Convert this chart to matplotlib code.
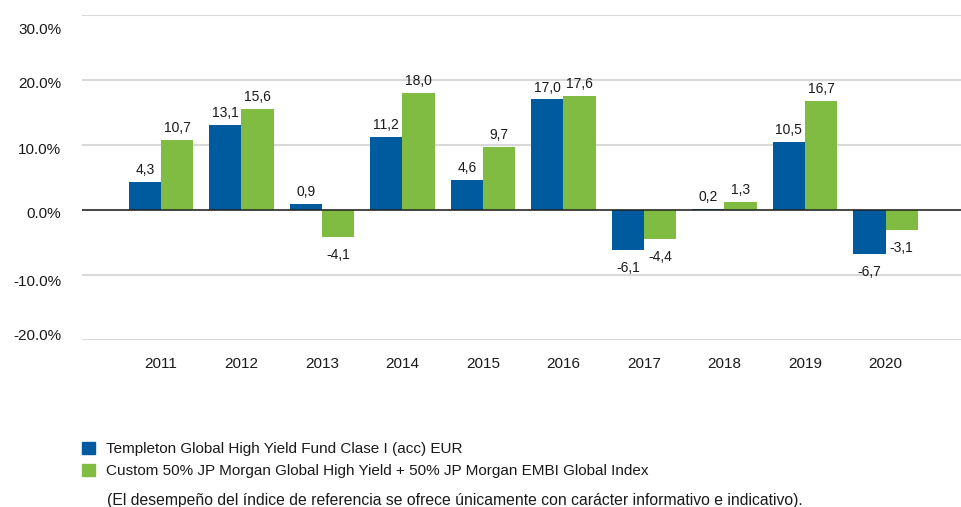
import matplotlib
matplotlib.use("Agg")
import matplotlib.pyplot as plt
import matplotlib.transforms as mtransforms
import numpy as np
from matplotlib.patches import Patch

plt.rcParams['font.family'] = ['Liberation Sans', 'DejaVu Sans']

years = ['2011', '2012', '2013', '2014', '2015', '2016', '2017', '2018', '2019', '2020']
fund = [4.3, 13.1, 0.9, 11.2, 4.6, 17.0, -6.1, 0.2, 10.5, -6.7]
index = [10.7, 15.6, -4.1, 18.0, 9.7, 17.6, -4.4, 1.3, 16.7, -3.1]
fund_label = 'Templeton Global High Yield Fund Clase I (acc) EUR'
index_label = 'Custom 50% JP Morgan Global High Yield + 50% JP Morgan EMBI Global Index'
note = '(El desempeño del índice de referencia se ofrece únicamente con carácter informativo e indicativo).'
yticks = [-20, -10, 0, 10, 20, 30]

blue = '#005A9E'
green = '#80BC41'
txtc = '#1A1A1A'

W, H = 962, 507
fig = plt.figure(figsize=(W / 100, H / 100), dpi=100)
ax = fig.add_axes([82 / W, (H - 340) / H, (W - 82) / W, (340 - 15) / H])

x = np.arange(len(years))
w = 0.4
b1 = ax.bar(x - w / 2, fund, w, color=blue, zorder=3)
b2 = ax.bar(x + w / 2, index, w, color=green, zorder=3)

for bars, vals in ((b1, fund), (b2, index)):
    for bar, v in zip(bars, vals):
        cx = bar.get_x() + bar.get_width() / 2
        txt = f'{v:.1f}'.replace('.', ',')
        if v >= 0:
            ax.annotate(txt, (cx, v), xytext=(0, 5), textcoords='offset pixels',
                        ha='center', va='bottom', fontsize=10, color=txtc)
        else:
            ax.annotate(txt, (cx, v), xytext=(0, -11), textcoords='offset pixels',
                        ha='center', va='top', fontsize=10, color=txtc)

ax.set_ylim(-20, 30)
ax.set_xlim(-0.98, 9.95)
ax.set_yticks(yticks)
ax.set_yticklabels([f'{t:.1f}%' for t in yticks])
ax.set_xticks(x)
ax.set_xticklabels(years)
ax.tick_params(axis='both', length=0, colors=txtc)
ax.tick_params(axis='y', pad=15, labelsize=11)
ax.tick_params(axis='x', pad=12, labelsize=11)
for s in ax.spines.values():
    s.set_visible(False)
ax.yaxis.grid(True, color='#D9D9D9', linewidth=1.5, zorder=0)
ax.axhline(0, color='#222222', linewidth=1.1, zorder=4)

# the reference places the y labels slightly off their gridlines
shifts = {-20: 5, -10: -5, 0: -2, 10: -4, 20: -3, 30: -14}
for t, lab in zip(yticks, ax.get_yticklabels()):
    lab.set_transform(lab.get_transform() +
                      mtransforms.ScaledTranslation(0, shifts[t] / 100, fig.dpi_scale_trans))

handles = [Patch(color=blue, label=fund_label), Patch(color=green, label=index_label)]
fig.legend(handles=handles, loc='upper left', bbox_to_anchor=(82 / W, 1 - 442 / H),
           frameon=False, fontsize=11, handlelength=0.85, handleheight=0.85,
           handletextpad=0.75, labelspacing=0.5, borderpad=0, borderaxespad=0,
           labelcolor=txtc)
fig.text(107 / W, 1 - 500 / H, note, fontsize=11.3, va='center', ha='left', color=txtc)

fig.savefig('out.png', dpi=100)
